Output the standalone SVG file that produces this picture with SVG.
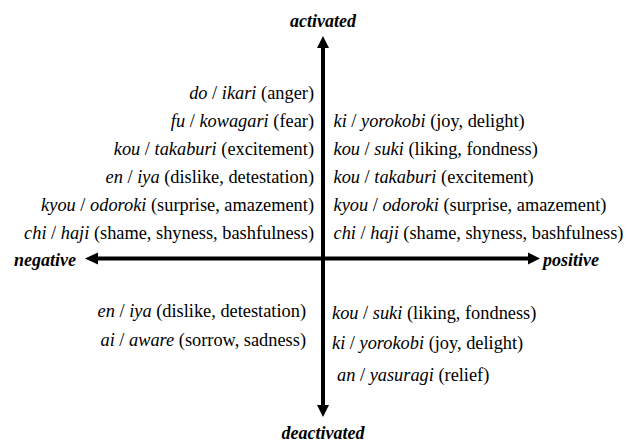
<svg xmlns="http://www.w3.org/2000/svg" width="627" height="444" viewBox="0 0 627 444" font-family="'Liberation Serif', 'DejaVu Serif', serif">
<style>
text{font-family:'Liberation Serif','DejaVu Serif',serif;font-size:18.35px;fill:#000}
.i{font-style:italic}
.lab{font-weight:bold;font-style:italic;font-size:18px}
.l{text-anchor:end}
.ax{stroke:#000;stroke-width:4;fill:none}
.hd{fill:#000}
</style>
<rect width="627" height="444" fill="#fff"/>
<g id="connectors">
<line class="ax" x1="323" y1="46" x2="323" y2="407"/>
<polygon class="hd" points="323,36 317,48 329,48"/>
<polygon class="hd" points="323,417 317,405 329,405"/>
<line class="ax" x1="96" y1="258.5" x2="530" y2="258.5"/>
<polygon class="hd" points="85,258.5 98,252.5 98,264.5"/>
<polygon class="hd" points="540,258.5 528,252.5 528,264.5"/>
</g>
<g id="axis-labels">
<text class="lab" x="323" y="27" text-anchor="middle">activated</text>
<text class="lab" x="323" y="439" text-anchor="middle">deactivated</text>
<text class="lab" x="14" y="266">negative</text>
<text class="lab" x="543" y="266">positive</text>
</g>
<g id="upper-left">
<text class="l" x="314" y="98.5"><tspan class="i">do</tspan> / <tspan class="i">ikari</tspan> (anger)</text>
<text class="l" x="314" y="127"><tspan class="i">fu</tspan> / <tspan class="i">kowagari</tspan> (fear)</text>
<text class="l" x="314" y="155"><tspan class="i">kou</tspan> / <tspan class="i">takaburi</tspan> (excitement)</text>
<text class="l" x="314" y="183"><tspan class="i">en</tspan> / <tspan class="i">iya</tspan> (dislike, detestation)</text>
<text class="l" x="314" y="211"><tspan class="i">kyou</tspan> / <tspan class="i">odoroki</tspan> (surprise, amazement)</text>
<text class="l" x="314" y="239"><tspan class="i">chi</tspan> / <tspan class="i">haji</tspan> (shame, shyness, bashfulness)</text>
</g>
<g id="upper-right">
<text x="333.5" y="127"><tspan class="i">ki</tspan> / <tspan class="i">yorokobi</tspan> (joy, delight)</text>
<text x="333.5" y="155"><tspan class="i">kou</tspan> / <tspan class="i">suki</tspan> (liking, fondness)</text>
<text x="333.5" y="183"><tspan class="i">kou</tspan> / <tspan class="i">takaburi</tspan> (excitement)</text>
<text x="333.5" y="211"><tspan class="i">kyou</tspan> / <tspan class="i">odoroki</tspan> (surprise, amazement)</text>
<text x="333.5" y="239"><tspan class="i">chi</tspan> / <tspan class="i">haji</tspan> (shame, shyness, bashfulness)</text>
</g>
<g id="lower-left">
<text class="l" x="306" y="316.5"><tspan class="i">en</tspan> / <tspan class="i">iya</tspan> (dislike, detestation)</text>
<text class="l" x="306" y="346"><tspan class="i">ai</tspan> / <tspan class="i">aware</tspan> (sorrow, sadness)</text>
</g>
<g id="lower-right">
<text x="332" y="318.5"><tspan class="i">kou</tspan> / <tspan class="i">suki</tspan> (liking, fondness)</text>
<text x="332" y="348.5"><tspan class="i">ki</tspan> / <tspan class="i">yorokobi</tspan> (joy, delight)</text>
<text x="337" y="381"><tspan class="i">an</tspan> / <tspan class="i">yasuragi</tspan> (relief)</text>
</g>
</svg>
